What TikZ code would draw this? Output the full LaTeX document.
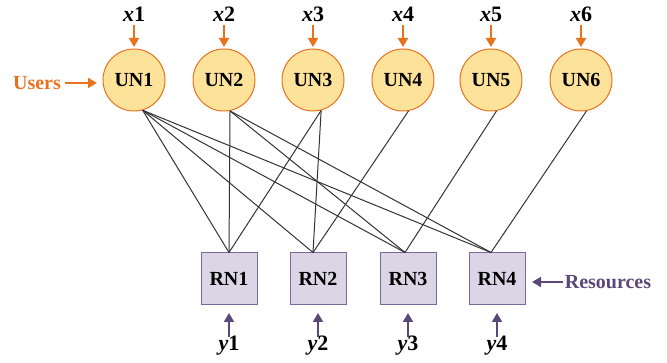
\documentclass[tikz,border=0pt]{standalone}
\usepackage{fontspec}
\setmainfont{Liberation Serif}
\usetikzlibrary{arrows.meta}
\definecolor{uorange}{HTML}{E8731F}
\definecolor{ufill}{HTML}{FDE29A}
\definecolor{rfill}{HTML}{DCD5E6}
\definecolor{rdraw}{HTML}{7B6A99}
\definecolor{rpurple}{HTML}{5A4878}
\definecolor{linkc}{HTML}{333333}
\begin{document}
\begin{tikzpicture}[x=1pt,y=-1pt,
 unode/.style={circle,draw=uorange,fill=ufill,line width=1pt,minimum size=62pt,inner sep=0pt,font=\fontsize{20}{22}\selectfont\bfseries},
 rnode/.style={rectangle,draw=rdraw,fill=rfill,line width=1pt,minimum width=56pt,minimum height=52pt,inner sep=0pt,font=\fontsize{20}{22}\selectfont\bfseries},
 lab/.style={inner sep=0pt,font=\fontsize{22}{24}\selectfont\bfseries},
 slab/.style={inner sep=0pt,font=\fontsize{20}{22}\selectfont\bfseries},
 oarr/.style={draw=uorange,line width=1.8pt,-{Triangle[length=9pt,width=10pt]}},
 parr/.style={draw=rpurple,line width=1.8pt,-{Triangle[length=9pt,width=10pt]}},
 linkstyle/.style={draw=linkc,line width=1pt}]
\useasboundingbox (0,0) rectangle (667,363);
% user nodes
\foreach \i/\x in {1/134,2/224,3/313,4/403,5/491,6/581}{
  \node[unode] (UN\i) at (\x,80) {UN\i};
  \node[lab] (X\i) at (\x,14) {\textit{x}\i};
  \coordinate (XA\i) at (\x,25);
  \coordinate (XB\i) at (\x,47);
  \draw[oarr] (XA\i) -- (XB\i);
}
% resource nodes
\foreach \i/\x in {1/229,2/318,3/408,4/497}{
  \node[rnode] (RN\i) at (\x,279) {RN\i};
  \node[lab] (Y\i) at (\x,346) {\textit{y}\i};
  \coordinate (YA\i) at (\x,337);
  \coordinate (YB\i) at (\x,313);
  \draw[parr] (YA\i) -- (YB\i);
}
% side labels
\node[slab,text=uorange] (users) at (37,83) {Users};
\coordinate (ua) at (65,83);
\coordinate (ub) at (97,83);
\draw[oarr] (ua) -- (ub);
\node[slab,text=rpurple] (res) at (608,282) {Resources};
\coordinate (ra) at (563,282);
\coordinate (rb) at (532,282);
\draw[parr] (ra) -- (rb);
% link end points
\coordinate (u1) at (UN1.-74);
\coordinate (u2) at (UN2.-79);
\coordinate (u3) at (UN3.-75);
\coordinate (u4) at (UN4.-80);
\coordinate (u5) at (UN5.-80);
\coordinate (u6) at (UN6.-80);
\coordinate (r1) at (RN1.north);
\coordinate (r2) at ([xshift=-5pt]RN2.north);
\coordinate (r3) at ([xshift=-3pt]RN3.north);
\coordinate (r4) at ([xshift=-6pt]RN4.north);
% links
\draw[linkstyle] (u1) -- (r1);
\draw[linkstyle] (u1) -- (r2);
\draw[linkstyle] (u1) -- (r3);
\draw[linkstyle] (u1) -- (r4);
\draw[linkstyle] (u2) -- (r1);
\draw[linkstyle] (u2) -- (r3);
\draw[linkstyle] (u2) -- (r4);
\draw[linkstyle] (u3) -- (r1);
\draw[linkstyle] (u3) -- (r2);
\draw[linkstyle] (u4) -- (r2);
\draw[linkstyle] (u5) -- (r3);
\draw[linkstyle] (u6) -- (r4);
\end{tikzpicture}
\end{document}
